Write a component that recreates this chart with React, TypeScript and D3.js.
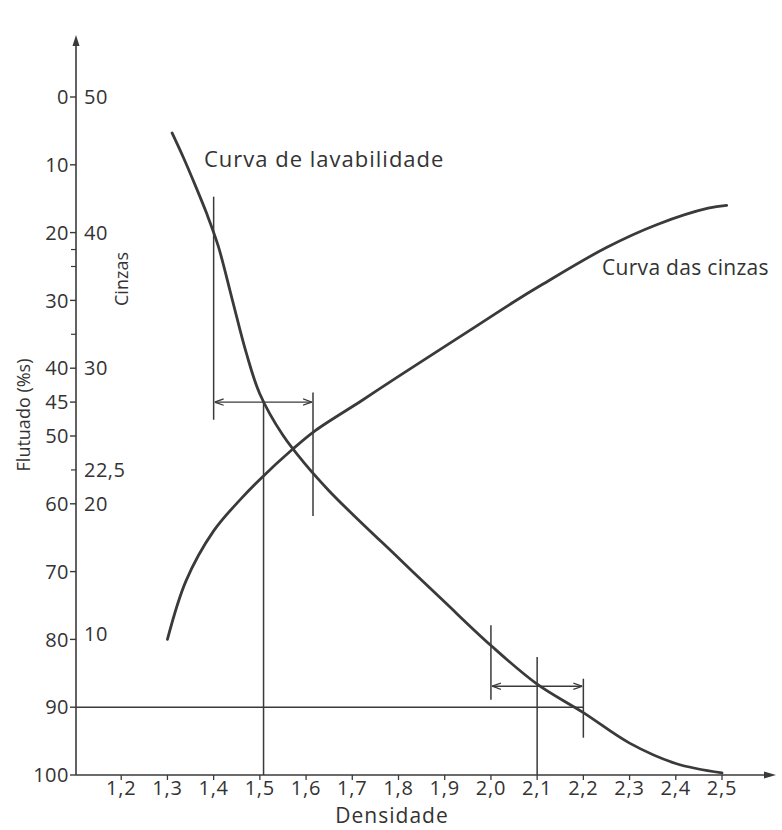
import React from "react";
import * as d3 from "d3";

// ---- data ----
const xTicks = [1.2, 1.3, 1.4, 1.5, 1.6, 1.7, 1.8, 1.9, 2.0, 2.1, 2.2, 2.3, 2.4, 2.5];
const flutTicks = [0, 10, 20, 30, 40, 45, 50, 60, 70, 80, 90, 100];
const minorFlutTicks = [22.5, 25, 35, 55];
const cinzasLabels = [50, 40, 30, 22.5, 20, 10];

// Curva de lavabilidade: densidade -> flutuado (%)
const lavDens = [1.31, 1.335, 1.36, 1.385, 1.41, 1.44, 1.47, 1.5, 1.55, 1.6, 1.65, 1.7, 1.8, 1.9, 2.0, 2.1, 2.2, 2.3, 2.4, 2.5];
const lavFlut = [5.3, 9, 13, 17.2, 22, 29.8, 37.6, 43.8, 49.9, 54.3, 58.1, 61.5, 68, 74.5, 80.9, 86.6, 90.8, 95.3, 98.3, 99.7];

// Curva das cinzas: densidade -> cinzas (%)
const cinDens = [1.3, 1.34, 1.4, 1.46, 1.5, 1.57, 1.62, 1.72, 1.8, 1.95, 2.05, 2.11, 2.25, 2.36, 2.47, 2.51];
const cinVal = [10, 14.3, 18, 20.4, 21.8, 24, 25.4, 27.6, 29.4, 32.7, 34.9, 36.15, 38.9, 40.6, 41.8, 42];

// construction lines
const vLineDens = [1.4, 1.508, 1.615, 2.0, 2.1, 2.2];
const vLineFrom = [14.7, 45, 43.6, 77.9, 82.6, 85.8];
const vLineTo = [47.6, 100, 61.8, 88.9, 100, 94.5];
const arrowFromDens = [1.4, 2.0];
const arrowToDens = [1.615, 2.2];
const arrowLevel = [45, 86.9];
const hLineLevel = 90;
const hLineEndDens = 2.2;

const comma = (v: number) => String(v).replace(".", ",");

export default function App() {
  const W = 782, H = 830;
  const x = d3.scaleLinear().domain([1.1, 2.5]).range([75, 722]);
  const y = d3.scaleLinear().domain([0, 100]).range([97, 775]);
  const cinzasToFlut = (c: number) => (50 - c) * 2;
  const axisX = x(1.1) + 1;
  const axisY = y(100);
  const lineCol = "#3a3a3a";
  const textCol = "#333";
  const font = "'Open Sans', sans-serif";

  const lavLine = d3.line<number>()
    .x((_, i) => x(lavDens[i]))
    .y((v) => y(v))
    .curve(d3.curveCatmullRom.alpha(0.5))(lavFlut);
  const cinLine = d3.line<number>()
    .x((_, i) => x(cinDens[i]))
    .y((v) => y(cinzasToFlut(v)))
    .curve(d3.curveCatmullRom.alpha(0.5))(cinVal);

  return (
    <div style={{ position: "absolute", left: 0, top: 0 }}>
      <svg width={W} height={H} style={{ display: "block", background: "#fff" }}>
        <defs>
          <marker id="ah" viewBox="0 -5 10 10" refX="10" refY="0" markerWidth="9" markerHeight="9" orient="auto-start-reverse" markerUnits="userSpaceOnUse">
            <path d="M0,-3.5L10,0L0,3.5" fill="none" stroke={lineCol} strokeWidth={1.4} />
          </marker>
        </defs>

        {/* axes */}
        <line x1={axisX} x2={axisX} y1={40} y2={axisY} stroke={lineCol} strokeWidth={1.6} />
        <path d={`M${axisX - 3.5},${46} L${axisX},${35} L${axisX + 3.5},${46} Z`} fill={lineCol} />
        <line x1={axisX} x2={768} y1={axisY} y2={axisY} stroke={lineCol} strokeWidth={1.6} />
        <path d={`M${764},${axisY - 3.5} L${776},${axisY} L${764},${axisY + 3.5} Z`} fill={lineCol} />

        {/* y ticks (Flutuado) */}
        {flutTicks.map((t) => (
          <g key={"yt" + t}>
            <line x1={axisX - 6} x2={axisX} y1={y(t)} y2={y(t)} stroke={lineCol} strokeWidth={1.4} />
            <text x={axisX - 7} y={y(t)} dy="0.36em" textAnchor="end" fontFamily={font} fontSize={20} letterSpacing={0.5} fill={textCol}>{t}</text>
          </g>
        ))}
        {minorFlutTicks.map((t) => (
          <line key={"mt" + t} x1={axisX - 5} x2={axisX} y1={y(t)} y2={y(t)} stroke={lineCol} strokeWidth={1.2} />
        ))}
        {/* cinzas labels */}
        {cinzasLabels.map((c) => (
          <text key={"cz" + c} x={axisX + 8} y={y(cinzasToFlut(c)) - (c === 10 ? 6 : 0)} dy="0.36em" fontFamily={font} fontSize={20} letterSpacing={0.5} fill={textCol}>{comma(c)}</text>
        ))}

        {/* x ticks */}
        {xTicks.map((t) => (
          <g key={"xt" + t}>
            <line x1={x(t)} x2={x(t)} y1={axisY} y2={axisY + 5} stroke={lineCol} strokeWidth={1.3} />
            <text x={x(t)} y={axisY + 20} textAnchor="middle" fontFamily={font} fontSize={20} letterSpacing={0.8} fill={textCol}>{d3.format(".1f")(t).replace(".", ",")}</text>
          </g>
        ))}

        {/* axis titles */}
        <text x={392} y={823} textAnchor="middle" fontFamily={font} fontSize={21} letterSpacing={1} fill={textCol}>Densidade</text>
        <text transform="translate(30,415) rotate(-90)" textAnchor="middle" fontFamily={font} fontSize={18} fill={textCol}>Flutuado (%s)</text>
        <text transform="translate(128,279) rotate(-90)" textAnchor="middle" fontFamily={font} fontSize={18} fill={textCol}>Cinzas</text>

        {/* construction lines */}
        {vLineDens.map((d, i) => (
          <line key={"vl" + i} x1={x(d)} x2={x(d)} y1={y(vLineFrom[i])} y2={y(vLineTo[i])} stroke={lineCol} strokeWidth={1.5} />
        ))}
        {arrowLevel.map((lv, i) => (
          <line key={"ar" + i} x1={x(arrowFromDens[i]) + 1} x2={x(arrowToDens[i]) - 1} y1={y(lv)} y2={y(lv)} stroke={lineCol} strokeWidth={1.4} markerStart="url(#ah)" markerEnd="url(#ah)" />
        ))}
        <line x1={axisX} x2={x(hLineEndDens)} y1={y(hLineLevel)} y2={y(hLineLevel)} stroke={lineCol} strokeWidth={1.4} />

        {/* curves */}
        <path d={lavLine || ""} fill="none" stroke={lineCol} strokeWidth={2.8} strokeLinecap="round" />
        <path d={cinLine || ""} fill="none" stroke={lineCol} strokeWidth={2.8} strokeLinecap="round" />

        {/* curve labels */}
        <text x={204} y={167} fontFamily={font} fontSize={22} letterSpacing={1} fill={textCol}>Curva de lavabilidade</text>
        <text x={602} y={275} fontFamily={font} fontSize={21} letterSpacing={0.3} fill={textCol}>Curva das cinzas</text>
      </svg>
    </div>
  );
}
